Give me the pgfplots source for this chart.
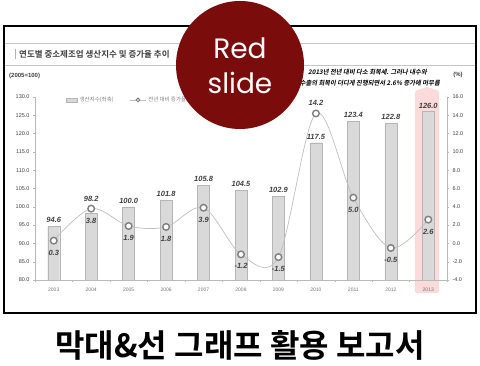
\documentclass[border=0pt]{standalone}
\usepackage{pgfplots}
\pgfplotsset{compat=1.18}
\usepackage{fontspec}
\setmainfont{Liberation Sans}
\newfontfamily\kr{Noto Sans CJK KR}
\newfontfamily\krb{Noto Sans CJK KR Bold}
\newfontfamily\krit{Noto Sans CJK KR Bold}[FakeSlant=0.2]
\newfontfamily\rs{Poppins}
\definecolor{maroon}{HTML}{7B0C0C}
\definecolor{txt}{HTML}{404040}
\definecolor{pinkhl}{HTML}{FADADA}
\definecolor{barfill}{HTML}{D9D9D9}
\definecolor{baredge}{HTML}{B5B5B5}
\definecolor{mk}{HTML}{7F7F7F}
\definecolor{ln}{HTML}{BFBFBF}

\pgfplotstableread{
x y sh
0 94.6 0
1 98.2 8
2 100.0 0
3 101.8 0
4 105.8 0
5 104.5 0
6 102.9 0
7 117.5 0
8 123.4 0
9 122.8 0
10 126.0 0
}\bars
\pgfplotstableread{
x y pos
0 0.3 -12
1 3.8 -12
2 1.9 -12
3 1.8 -12
4 3.9 -12
5 -1.2 -12
6 -1.5 -12
7 14.2 11
8 5.0 -12
9 -0.5 -12
10 2.6 -12
}\rate

\begin{document}
\begin{tikzpicture}
\begin{scope}[x=1pt,y=1pt]
\path[use as bounding box] (0,0) rectangle (480,366);
% frame
\draw[line width=2pt] (4,53) rectangle (476,340);
\draw[gray!45, line width=0.8pt] (5,323) -- (475,323);
\draw[gray!45, line width=0.8pt] (5,301) -- (475,301);
\draw[gray!60, line width=1pt] (15,307) -- (15,317);
\node[anchor=west, inner sep=0pt] at (19,312) {\krb\fontsize{8.5}{9}\selectfont\color{txt}연도별 중소제조업 생산지수 및 증가율 추이};
\node[anchor=west, inner sep=0pt] at (9,290) {\bfseries\fontsize{6}{7}\selectfont\color{txt}(2005=100)};
\node[anchor=center, inner sep=0pt] at (458,291) {\bfseries\fontsize{6}{7}\selectfont\color{txt}(\%)};
\node[anchor=east, inner sep=0pt] at (427,294) {\krit\fontsize{6.3}{7}\selectfont 2013년 전년 대비 다소 회복세. 그러나 내수와};
\node[anchor=east, inner sep=0pt] at (440,283) {\krit\fontsize{6.3}{7}\selectfont 수출의 회복이 더디게 진행되면서 2.6\% 증가에 머무름};
% highlight 2013
\fill[pinkhl, rounded corners=2pt] (415,73) rectangle (439,275);
\fill[pinkhl] (415,275) -- (427,279) -- (439,275) -- cycle;
\end{scope}

\begin{axis}[
  at={(35pt,86pt)}, anchor=south west,
  scale only axis, width=412pt, height=183pt,
  xmin=-0.5, xmax=10.5,
  ymin=80, ymax=130,
  axis y line*=left, axis x line*=bottom,
  axis line style={draw=gray!55, line width=0.5pt},
  xtick={0,...,10},
  xticklabels={2003,2004,2005,2006,2007,2008,2009,2010,2011,2012,2013},
  major x tick style={draw=none},
  minor xtick={-0.5,0.5,...,10.5},
  minor x tick style={draw=gray!55},
  minor tick length=2pt,
  xtick align=outside,
  x tick label style={font=\fontsize{5}{6}\selectfont, text=gray!90!black, yshift=-2pt},
  ytick={80,85,...,130},
  ytick align=outside, major tick length=2pt,
  y tick style={draw=gray!55},
  y tick label style={font=\fontsize{5.5}{6}\selectfont, text=txt, /pgf/number format/.cd, fixed, fixed zerofill, precision=1, assume math mode=true},
  tick label style={/pgf/number format/assume math mode=true},
  legend style={at={(0.068,0.984)}, anchor=west, draw=none, fill=none,
    font=\kr\fontsize{5.5}{6}\selectfont\color{gray}, legend columns=2,
    /tikz/every even column/.append style={column sep=14pt}},
]
\addplot[ybar, bar width=12pt, fill=barfill, draw=baredge,
  visualization depends on={\thisrow{sh} \as \sh},
  nodes near coords,
  every node near coord/.append style={yshift=\sh pt},
  nodes near coords style={font=\bfseries\itshape\fontsize{7.5}{8}\selectfont, text=txt, /pgf/number format/.cd, fixed, fixed zerofill, precision=1, assume math mode=true},
  legend image code/.code={\draw[fill=barfill,draw=baredge] (0pt,-2pt) rectangle (11pt,2pt);}
] table[x=x,y=y] {\bars};
\addlegendentry{생산지수(좌축)}
\addlegendimage{draw=ln, line width=0.6pt,
  legend image code/.code={\draw[ln,line width=0.6pt] (0pt,0pt) -- (16pt,0pt); \draw[mk, fill=white, line width=1pt] (8pt,0pt) circle (1.8pt);}}
\addlegendentry{전년 대비 증가율(우축)}
\end{axis}

\begin{axis}[
  at={(35pt,86pt)}, anchor=south west,
  scale only axis, width=412pt, height=183pt,
  xmin=-0.5, xmax=10.5,
  ymin=-4, ymax=16,
  axis y line*=right, axis x line=none,
  axis line style={draw=gray!55, line width=0.5pt},
  ytick={-4,-2,...,16},
  ytick align=outside, major tick length=2pt,
  y tick style={draw=gray!55},
  y tick label style={font=\fontsize{5.5}{6}\selectfont, text=txt, /pgf/number format/.cd, fixed, fixed zerofill, precision=1, assume math mode=true},
  clip=false,
]
\addplot[draw=ln, line width=0.7pt, smooth, tension=0.55, mark=*, mark size=3.3pt,
  mark options={fill=white, draw=mk, line width=1.4pt},
  visualization depends on={\thisrow{pos} \as \pos},
  nodes near coords,
  every node near coord/.append style={anchor=center, yshift=\pos pt},
  nodes near coords style={font=\bfseries\itshape\fontsize{7.5}{8}\selectfont, text=txt, /pgf/number format/.cd, fixed, fixed zerofill, precision=1, assume math mode=true},
] table[x=x,y=y] {\rate};
\end{axis}

\begin{scope}[x=1pt,y=1pt]
% Red slide badge
\fill[maroon] (240,301) circle (64);
\node[text=white, inner sep=0pt] at (240,318) {\rs\fontsize{28}{30}\selectfont Red};
\node[text=white, inner sep=0pt] at (240,283) {\rs\fontsize{28}{30}\selectfont slide};
% bottom title
\node[inner sep=0pt] at (240,21) {\krb\fontsize{32}{35}\selectfont 막대\&선 그래프 활용 보고서};
\end{scope}
\end{tikzpicture}
\end{document}
